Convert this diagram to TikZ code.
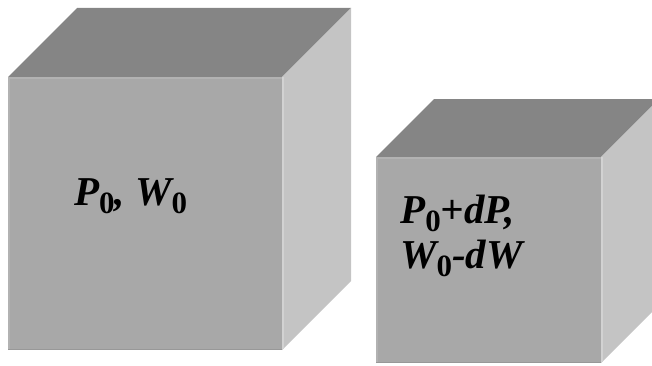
\documentclass[tikz,border=0pt]{standalone}
\usepackage{fontspec}
\setmainfont{Liberation Serif}
\usepackage{tikz}
\definecolor{cubefront}{RGB}{168,168,168}
\definecolor{cubetop}{RGB}{133,133,133}
\definecolor{cubeside}{RGB}{196,196,196}
\definecolor{edgelight}{RGB}{178,178,178}
\definecolor{edgedark}{RGB}{152,152,152}
\definecolor{sidelight}{RGB}{210,210,210}
\newcommand{\zsub}{\raisebox{-8pt}{\fontsize{31}{31}\selectfont\upshape 0}}

\begin{document}
\begin{tikzpicture}[x=1pt,y=1pt,
    lbl/.style={anchor=base west,inner sep=0pt,
      font=\fontsize{41}{44}\selectfont\bfseries\itshape}]
    \useasboundingbox (0,0) rectangle (652,365);
    \clip (0,0) rectangle (652,365);
    % two cubes: front corner x/y, width, height, depth
    \foreach \x/\y/\w/\h/\d in {8/15/274/273/69, 376/2/225/206/58}{
      \fill[cubetop] (\x,\y+\h) -- ++(\d,\d) -- ++(\w,0) -- (\x+\w,\y+\h) -- cycle;
      \fill[cubeside] (\x+\w,\y) -- ++(\d,\d) -- ++(0,\h) -- (\x+\w,\y+\h) -- cycle;
      \fill[cubefront] (\x,\y) rectangle ++(\w,\h);
      \draw[edgelight,line width=1.5pt] (\x+0.75,\y) -- (\x+0.75,\y+\h-0.75) -- (\x+\w,\y+\h-0.75);
      \draw[edgedark,line width=1.5pt] (\x,\y+0.75) -- (\x+\w,\y+0.75);
      \draw[sidelight,line width=2pt] (\x+\w+1,\y+1) -- (\x+\w+1,\y+\h);
    }
    \node[lbl] (big) at (74,160) {P\zsub, W\zsub};
    \node[lbl] (smallA) at (400,142) {P\zsub+dP,};
    \node[lbl] (smallB) at (400,97) {W\zsub-dW};
  \end{tikzpicture}
\end{document}
